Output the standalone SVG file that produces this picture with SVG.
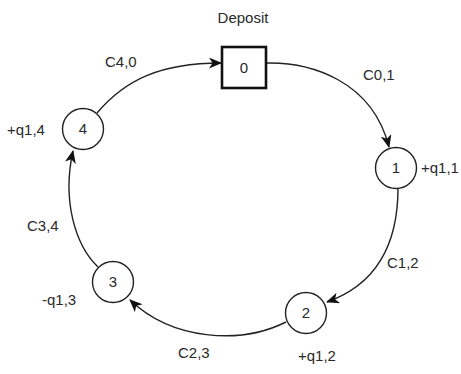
<svg xmlns="http://www.w3.org/2000/svg" width="461" height="374" viewBox="0 0 461 374">
  <style>
    .lbl { font-family: "Liberation Sans", Arial, sans-serif; font-size: 15px; fill: #2a2a2a; }
    .mid { text-anchor: middle; }
    .node { fill: #fff; stroke: #222; stroke-width: 1.4; }
    .depot { fill: #fff; stroke: #111; stroke-width: 2.6; }
    .edge { fill: none; stroke: #222; stroke-width: 1.4; }
  </style>
  <defs>
    <marker id="arrow" viewBox="0 0 13 11" refX="12" refY="5.5" markerWidth="13" markerHeight="11" markerUnits="userSpaceOnUse" orient="auto">
      <path d="M0,0 L13,5.5 L0,11 L3.5,5.5 z" fill="#111"/>
    </marker>
  </defs>
  <rect width="461" height="374" fill="#fff"/>

  <g id="connectors">
    <path class="edge" marker-end="url(#arrow)" d="M97,113 C125,80 160,63 221,63"/>
    <path class="edge" marker-end="url(#arrow)" d="M266,63 C310,62 372,80 389,147"/>
    <path class="edge" marker-end="url(#arrow)" d="M398,188 C398,250 372,286 327,302"/>
    <path class="edge" marker-end="url(#arrow)" d="M286,322 C240,345 172,340 130,300"/>
    <path class="edge" marker-end="url(#arrow)" d="M98,267 C75,245 62,200 73,151"/>
  </g>

  <g id="node-0">
    <rect class="depot" x="222" y="47" width="44" height="41"/>
    <text class="lbl mid" x="244" y="73">0</text>
    <text class="lbl mid" x="243" y="23">Deposit</text>
  </g>
  <g id="node-1">
    <circle class="node" cx="396" cy="168" r="20.5"/>
    <text class="lbl mid" x="396" y="173">1</text>
    <text class="lbl" x="421" y="173">+q1,1</text>
    <text class="lbl" x="363" y="80">C0,1</text>
  </g>
  <g id="node-2">
    <circle class="node" cx="306" cy="313" r="20.5"/>
    <text class="lbl mid" x="306" y="318">2</text>
    <text class="lbl" x="298" y="361">+q1,2</text>
    <text class="lbl" x="387" y="268">C1,2</text>
  </g>
  <g id="node-3">
    <circle class="node" cx="113" cy="282" r="20.5"/>
    <text class="lbl mid" x="113" y="287">3</text>
    <text class="lbl" x="42" y="305">-q1,3</text>
    <text class="lbl" x="178" y="358">C2,3</text>
  </g>
  <g id="node-4">
    <circle class="node" cx="83" cy="129" r="20.5"/>
    <text class="lbl mid" x="83" y="134">4</text>
    <text class="lbl" x="7" y="135">+q1,4</text>
    <text class="lbl" x="27" y="231">C3,4</text>
    <text class="lbl" x="105" y="67">C4,0</text>
  </g>
</svg>
